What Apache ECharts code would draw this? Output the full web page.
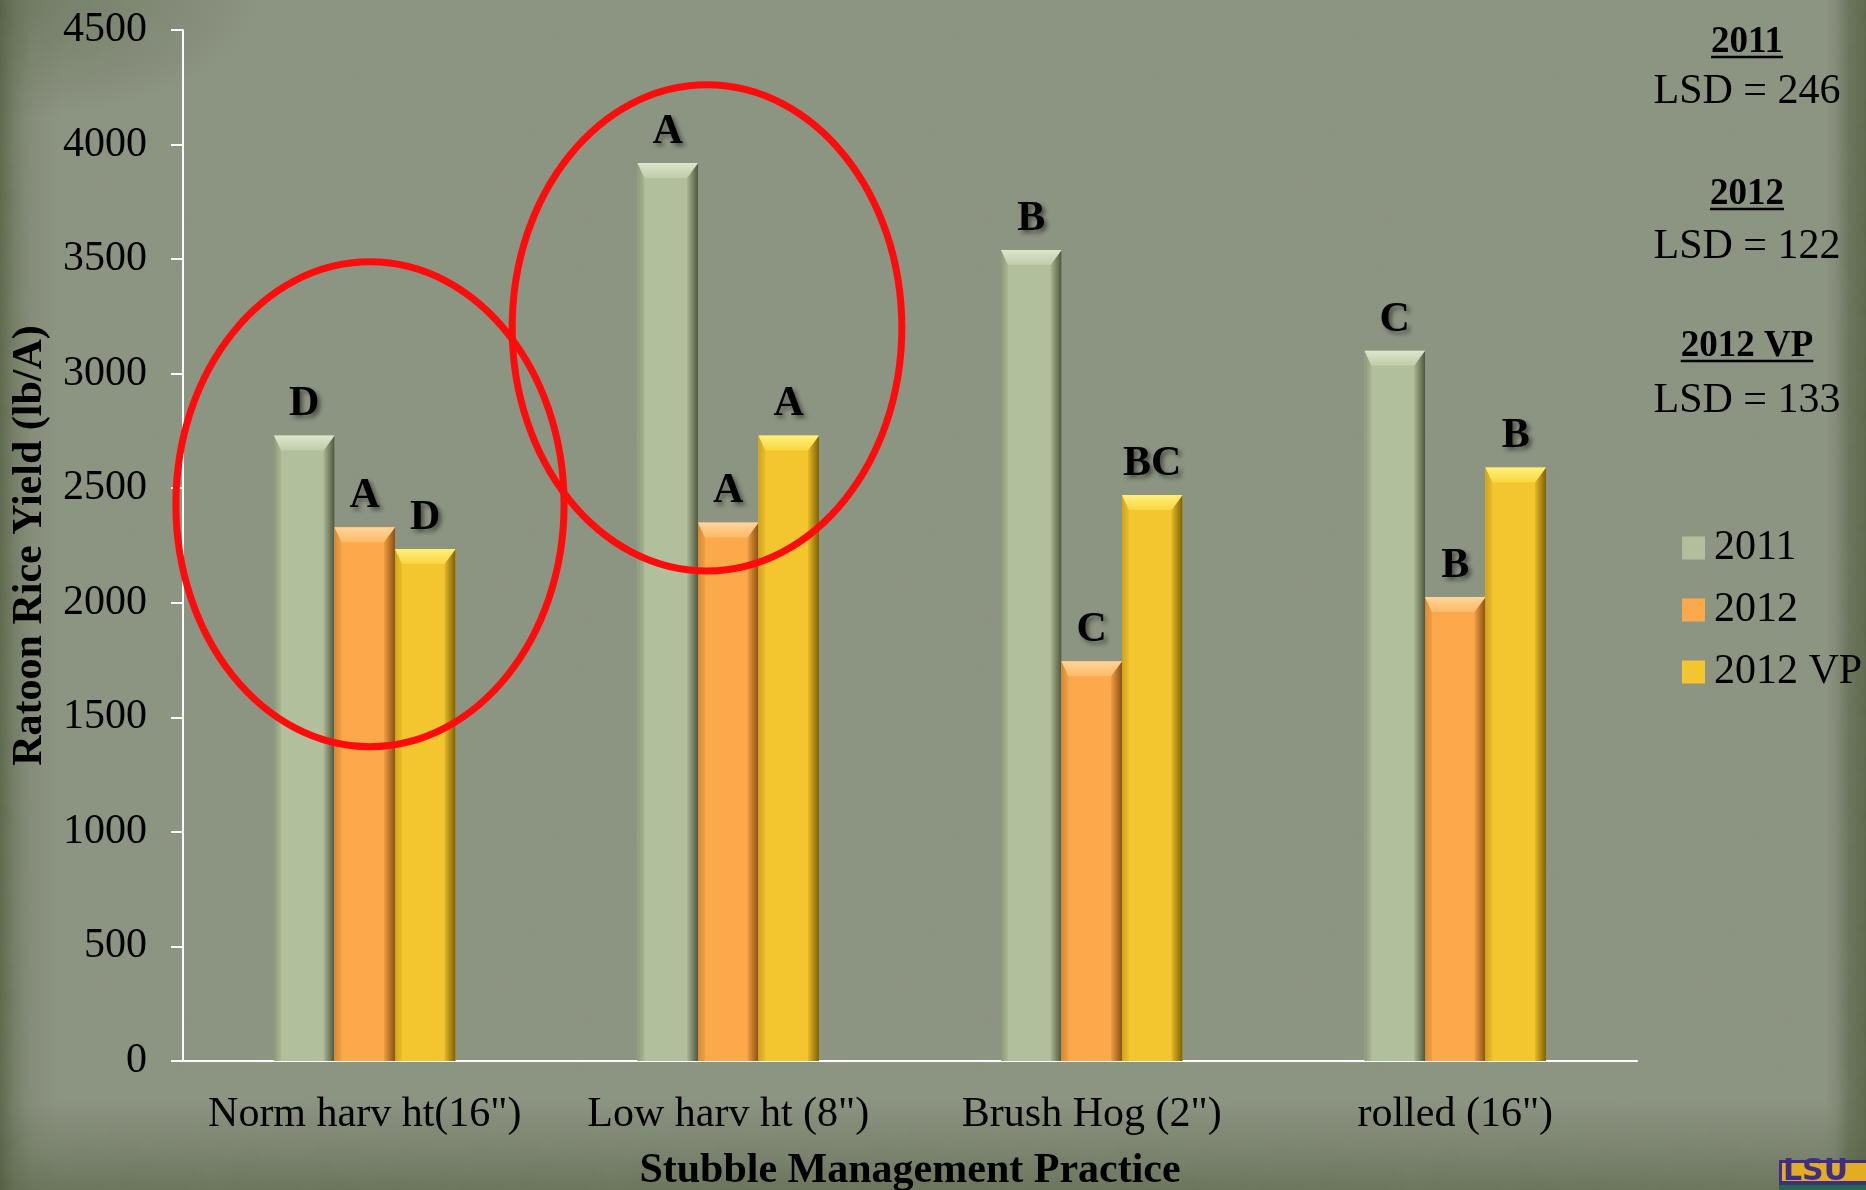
<!DOCTYPE html>
<html>
<head>
<meta charset="utf-8">
<title>Ratoon Rice Yield by Stubble Management Practice</title>
<script src="https://cdn.jsdelivr.net/npm/echarts@6.0.0/dist/echarts.min.js"></script>
<style>
  html, body { margin: 0; padding: 0; }
  #chart {
    width: 1866px; height: 1190px; position: relative; overflow: hidden;
    background:
      linear-gradient(to right, rgba(78,90,60,0.75) 0px, rgba(88,100,70,0.45) 14px, rgba(100,110,85,0.15) 32px, rgba(0,0,0,0) 60px),
      linear-gradient(to left, rgba(82,94,64,0.8) 0px, rgba(86,98,68,0.6) 18px, rgba(96,106,80,0.2) 30px, rgba(0,0,0,0) 40px),
      linear-gradient(to top, rgba(84,96,66,0.6) 0px, rgba(92,102,76,0.35) 40px, rgba(0,0,0,0) 90px),
      radial-gradient(ellipse 260px 120px at 0px 0px, rgba(80,92,62,0.45), rgba(0,0,0,0)),
      #8c9482;
  }
  #texture {
    position: absolute; left: 0; top: 0; width: 1866px; height: 1190px; pointer-events: none;
    opacity: 0.10;
    background-image: url("data:image/svg+xml;utf8,<svg xmlns='http://www.w3.org/2000/svg' width='400' height='400'><filter id='n'><feTurbulence type='fractalNoise' baseFrequency='0.035' numOctaves='4' seed='7'/><feColorMatrix values='0 0 0 0 0.25  0 0 0 0 0.3  0 0 0 0 0.2  0 0 0 1.4 -0.35'/></filter><rect width='400' height='400' filter='url(%23n)'/></svg>");
  }
  #plot { position: absolute; left: 0; top: 0; width: 1866px; height: 1190px; }
</style>
</head>
<body>
<div id="chart"><div id="texture"></div><div id="plot"></div></div>
<script>
// Ratoon rice yield (lb/A) by stubble management practice
const categories = ['Norm harv ht(16")', 'Low harv ht (8")', 'Brush Hog (2")', 'rolled (16")'];
const seriesNames = ['2011', '2012', '2012 VP'];
const yield2011 = [2730, 3920, 3540, 3100];
const yield2012 = [2330, 2350, 1745, 2025];
const yield2012VP = [2235, 2730, 2470, 2590];
// mean separation letters printed above each bar
const letters2011 = ['D', 'A', 'B', 'C'];
const letters2012 = ['A', 'A', 'C', 'B'];
const letters2012VP = ['D', 'A', 'BC', 'B'];
const yTicks = { min: 0, max: 4500, interval: 500 };
// least significant difference notes
const lsdYears = ['2011', '2012', '2012 VP'];
const lsdValues = [246, 122, 133];

const seriesValues = [yield2011, yield2012, yield2012VP];
const seriesLetters = [letters2011, letters2012, letters2012VP];

const SERIF = '"Liberation Serif", "DejaVu Serif", serif';

// bevelled bar shading per series: face, top highlight, left edge, right edge
const palettes = [
  { face: '#b1bf9c', topA: '#dde6cc', topB: '#bfcba9', left: ['#8d9a78', '#a9b693'], right: ['#aab693', '#4d573d'] },
  { face: '#fca94c', topA: '#ffd59c', topB: '#ffb967', left: ['#d58a36', '#f29f45'], right: ['#ef9d42', '#8a5015'] },
  { face: '#f3c52e', topA: '#fff07c', topB: '#f9d640', left: ['#cfa41e', '#ecbd2a'], right: ['#e6b827', '#7c6208'] }
];

const BAR_RATIO = 0.1664;

function bevelBar(params, api) {
  const sIdx = params.seriesIndex;
  const cat = api.value(0);
  const val = api.value(1);
  const base = api.coord([cat, 0]);
  const topPt = api.coord([cat, val]);
  const band = api.size([1, 0])[0];
  const w = band * BAR_RATIO;
  const x0 = base[0] + (sIdx - 1.5) * w;
  const x1 = x0 + w;
  const yT = topPt[1];
  const yB = base[1];
  const bt = 15, bl = 7, br = 11;
  const p = palettes[sIdx];
  const grad = (x, y, x2, y2, c0, c1) => new echarts.graphic.LinearGradient(x, y, x2, y2, [
    { offset: 0, color: c0 }, { offset: 1, color: c1 }
  ]);
  const letter = seriesLetters[sIdx][params.dataIndex];
  return {
    type: 'group',
    children: [
      { type: 'rect', shape: { x: x0, y: yT, width: w, height: yB - yT }, style: { fill: p.face } },
      { type: 'polygon', shape: { points: [[x0, yT], [x0 + bl, yT + bt], [x0 + bl, yB], [x0, yB]] },
        style: { fill: grad(0, 0, 1, 0, p.left[0], p.left[1]) } },
      { type: 'polygon', shape: { points: [[x1, yT], [x1, yB], [x1 - br, yB], [x1 - br, yT + bt]] },
        style: { fill: grad(0, 0, 1, 0, p.right[0], p.right[1]) } },
      { type: 'polygon', shape: { points: [[x0, yT], [x1, yT], [x1 - br, yT + bt], [x0 + bl, yT + bt]] },
        style: { fill: grad(0, 0, 0, 1, p.topA, p.topB) } },
      { type: 'text', x: (x0 + x1) / 2, y: yT - 10,
        style: { text: letter, fill: '#000', font: 'bold 42px ' + SERIF, align: 'center', verticalAlign: 'bottom',
                 textShadowColor: 'rgba(0,0,0,0.45)', textShadowBlur: 4, textShadowOffsetX: 3, textShadowOffsetY: 3 } }
    ]
  };
}

const chart = echarts.init(document.getElementById('plot'), null, { renderer: 'canvas' });

const legendColors = ['#b1bf9c', '#fca94c', '#f3c52e'];

const option = {
  backgroundColor: 'transparent',
  animation: false,
  color: legendColors,
  grid: { left: 183, right: 229, top: 30, bottom: 129, containLabel: false, outerBoundsMode: 'none' },
  legend: {
    orient: 'vertical', left: 1682, top: 527, padding: 0, itemWidth: 23, itemHeight: 23, itemGap: 20,
    icon: 'rect',
    data: seriesNames,
    textStyle: { fontFamily: SERIF, fontSize: 42, color: '#000', padding: [0, 0, 0, 4] }
  },
  xAxis: {
    type: 'category', data: categories,
    axisLine: { lineStyle: { color: '#ffffff', width: 2 } },
    axisTick: { show: false },
    axisLabel: { fontFamily: SERIF, fontSize: 42, color: '#000', margin: 33, interval: 0 },
    name: 'Stubble Management Practice', nameLocation: 'middle', nameGap: 89,
    nameTextStyle: { fontFamily: SERIF, fontSize: 42, fontWeight: 'bold', color: '#000' }
  },
  yAxis: {
    type: 'value', min: yTicks.min, max: yTicks.max, interval: yTicks.interval,
    axisLine: { show: true, lineStyle: { color: '#ffffff', width: 2 } },
    axisTick: { show: true, length: 12, lineStyle: { color: '#ffffff', width: 2 } },
    splitLine: { show: false },
    axisLabel: { fontFamily: SERIF, fontSize: 42, color: '#000', margin: 36, formatter: v => String(v) },
    name: 'Ratoon Rice Yield (lb/A)', nameLocation: 'middle', nameGap: 132, nameRotate: 90,
    nameTextStyle: { fontFamily: SERIF, fontSize: 42, fontWeight: 'bold', color: '#000' }
  },
  series: seriesNames.map((name, i) => ({
    name, type: 'custom', renderItem: bevelBar,
    itemStyle: { color: legendColors[i] },
    encode: { x: 0, y: 1 },
    data: seriesValues[i].map((v, c) => [c, v])
  }))
};
chart.setOption(option);

// red rings around the first two practices (centre in category/value units, half-extents likewise)
const rings = [
  { cat: 0.0144, value: 2430, halfCat: 0.534, halfValue: 1058 },
  { cat: 0.9415, value: 3200, halfCat: 0.536, halfValue: 1061 }
];

function toPx(cat, value) {
  const lo = Math.floor(cat);
  const a = chart.convertToPixel({ gridIndex: 0 }, [lo, value]);
  const b = chart.convertToPixel({ gridIndex: 0 }, [lo + 1, value]);
  return [a[0] + (cat - lo) * (b[0] - a[0]), a[1]];
}

const graphics = [];
rings.forEach(r => {
  const c = toPx(r.cat, r.value);
  const e = toPx(r.cat + r.halfCat, r.value + r.halfValue);
  graphics.push({
    type: 'ellipse', z: 100,
    shape: { cx: c[0], cy: c[1], rx: e[0] - c[0], ry: c[1] - e[1] },
    style: { fill: 'none', stroke: '#ff0b0b', lineWidth: 7 }
  });
});

// LSD notes at the upper right
const lsdX = 1747;
const lsdTitleY = [42, 194, 346];
const lsdLineY = [92, 247, 401];
const TITLE_FONT = 'bold 37px ' + SERIF;
lsdYears.forEach((yr, i) => {
  graphics.push({
    type: 'text', x: lsdX, y: lsdTitleY[i], z: 50,
    style: { text: yr, font: TITLE_FONT, fill: '#000', align: 'center', verticalAlign: 'middle' }
  });
  graphics.push({
    type: 'text', x: lsdX, y: lsdLineY[i], z: 50,
    style: { text: 'LSD = ' + lsdValues[i], font: '42px ' + SERIF, fill: '#000', align: 'center', verticalAlign: 'middle' }
  });
});
// underline each year heading, sized to its text
const measure = document.createElement('canvas').getContext('2d');
measure.font = TITLE_FONT;
lsdYears.forEach((yr, i) => {
  const w = measure.measureText(yr).width;
  graphics.push({
    type: 'line', z: 50,
    shape: { x1: lsdX - w / 2, y1: lsdTitleY[i] + 15, x2: lsdX + w / 2, y2: lsdTitleY[i] + 15 },
    style: { stroke: '#000', lineWidth: 2.5 }
  });
});

// corner logo
graphics.push(
  { type: 'rect', z: 60, shape: { x: 1779, y: 1160, width: 90, height: 25 }, style: { fill: '#3f2d86' } },
  { type: 'rect', z: 61, shape: { x: 1782, y: 1163, width: 90, height: 18 }, style: { fill: '#e2ad22' } },
  { type: 'text', z: 62, x: 1783, y: 1172,
    style: { text: 'LSU', font: 'bold 30px "DejaVu Sans", sans-serif', fill: '#3f2d86', verticalAlign: 'middle' } },
  { type: 'rect', z: 60, shape: { x: 1779, y: 1185, width: 90, height: 6 }, style: { fill: '#1f6a48' } }
);

chart.setOption({ graphic: graphics });
</script>
</body>
</html>
